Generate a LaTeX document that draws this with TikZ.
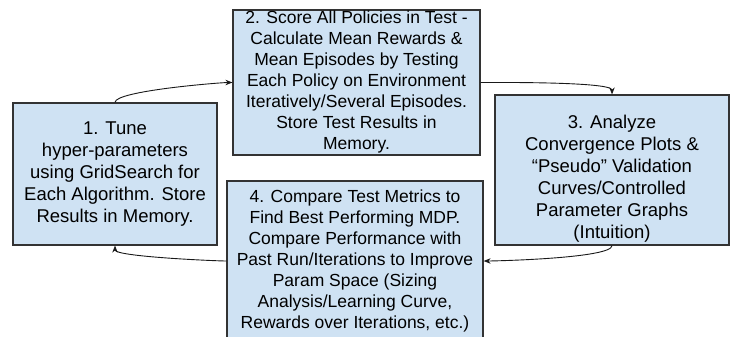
\documentclass[tikz,border=0pt]{standalone}
\usepackage{fontspec}
\setmainfont{Liberation Sans}
\usetikzlibrary{arrows.meta}
\definecolor{boxfill}{HTML}{CFE2F3}
\definecolor{boxline}{HTML}{333333}
\tikzset{
  stepbox/.style={draw=boxline, line width=1.2pt, fill=boxfill, inner sep=0pt},
  bigtxt/.style={align=center, inner sep=0pt, font=\fontsize{18.5}{22}\selectfont},
  smalltxt/.style={align=center, inner sep=0pt, font=\fontsize{17.5}{21}\selectfont},
  conn/.style={draw=black!90, line width=0.9pt, -{Stealth[length=7pt,width=5.5pt]}}
}
\begin{document}
\begin{tikzpicture}[x=1pt,y=-1pt]
\useasboundingbox (0,0) rectangle (736,337);
% boxes
\node[stepbox, minimum width=204pt, minimum height=142pt] (b1) at (115,174) {};
\node[stepbox, minimum width=247pt, minimum height=145pt] (b2) at (356.5,82.5) {};
\node[stepbox, minimum width=234pt, minimum height=150pt] (b3) at (612,170) {};
\node[stepbox, minimum width=256pt, minimum height=160pt] (b4) at (355,261) {};
% texts
\node[bigtxt] (t1) at (115,174) {1. Tune\\hyper-parameters\\using GridSearch for\\Each Algorithm. Store\\Results in Memory.};
\node[smalltxt] (t2) at (356.5,82) {2. Score All Policies in Test -\\Calculate Mean Rewards \&\\Mean Episodes by Testing\\Each Policy on Environment\\Iteratively/Several Episodes.\\Store Test Results in\\Memory.};
\node[bigtxt] (t3) at (612,178.5) {3. Analyze\\Convergence Plots \&\\“Pseudo” Validation\\Curves/Controlled\\Parameter Graphs\\(Intuition)};
\node[smalltxt] (t4) at (355,261) {4. Compare Test Metrics to\\Find Best Performing MDP.\\Compare Performance with\\Past Run/Iterations to Improve\\Param Space (Sizing\\Analysis/Learning Curve,\\Rewards over Iterations, etc.)};
% connectors
\draw[conn] (b1.north) to[out=90,in=180,looseness=0.25] (b2.west);
\draw[conn] (b2.east) to[out=0,in=90,looseness=0.25] (b3.north);
\draw[conn] (b3.south) to[out=-90,in=0,looseness=0.25] (b4.east);
\draw[conn] (b4.west) to[out=180,in=-90,looseness=0.25] (b1.south);
\end{tikzpicture}
\end{document}
